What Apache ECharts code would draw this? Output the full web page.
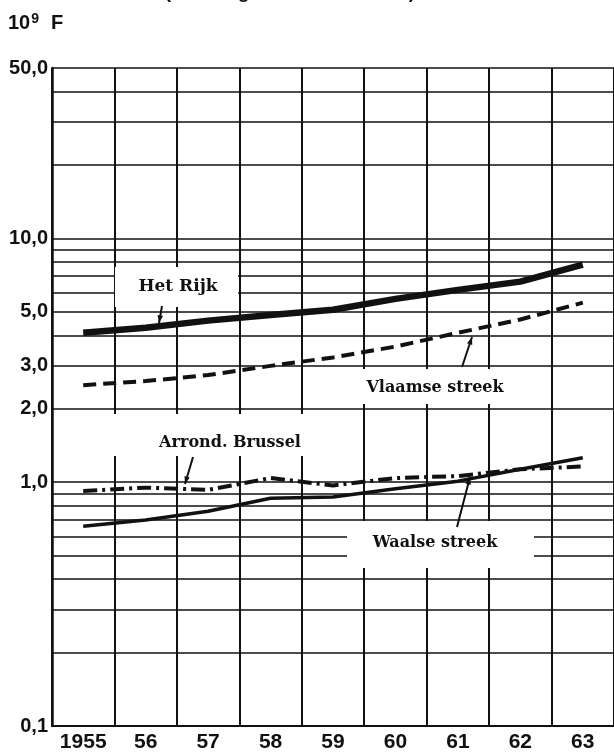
<!DOCTYPE html>
<html>
<head>
<meta charset="utf-8">
<script src="https://cdn.jsdelivr.net/npm/echarts@6/dist/echarts.min.js"></script>
<style>
  html, body { margin: 0; padding: 0; background: #fff; }
  #chart { width: 614px; height: 753px; }
</style>
</head>
<body>
<div id="chart"></div>
<script>
var years = ['1955', '56', '57', '58', '59', '60', '61', '62', '63'];
var hetRijk = [4.1, 4.3, 4.6, 4.85, 5.1, 5.65, 6.15, 6.65, 7.8];
var vlaamseStreek = [2.5, 2.6, 2.75, 3.0, 3.25, 3.6, 4.1, 4.65, 5.45];
var arrondBrussel = [0.92, 0.95, 0.93, 1.04, 0.97, 1.04, 1.06, 1.13, 1.16];
var waalseStreek = [0.66, 0.70, 0.76, 0.86, 0.87, 0.94, 1.01, 1.13, 1.26];
var gridValues = [0.1, 0.2, 0.3, 0.4, 0.5, 0.6, 0.7, 0.8, 0.9,
  1, 2, 3, 4, 5, 6, 7, 8, 9, 10, 20, 30, 40, 50];
var yLabels = [0.1, 1, 2, 3, 5, 10, 50];

var ink = '#111';
var serif = 'DejaVu Serif';

// white patch behind a note, so the grid breaks there
function patch(x, y, w, h) {
  return { type: 'rect', z: 1, shape: { x: x, y: y, width: w, height: h }, style: { fill: '#fff' } };
}
function note(text, cx, cy, size) {
  return {
    type: 'text', z: 5, x: cx, y: cy,
    style: { text: text, font: 'bold ' + size + 'px "' + serif + '"', fill: ink, align: 'center', verticalAlign: 'middle' }
  };
}
function arrow(x1, y1, x2, y2) {
  var a = Math.atan2(y2 - y1, x2 - x1);
  var len = 8, spread = 0.35;
  return {
    type: 'group', z: 5,
    children: [
      { type: 'line', z: 5, shape: { x1: x1, y1: y1, x2: x2, y2: y2 }, style: { stroke: ink, lineWidth: 2 } },
      { type: 'polygon', z: 5, shape: { points: [
        [x2, y2],
        [x2 - len * Math.cos(a - spread), y2 - len * Math.sin(a - spread)],
        [x2 - len * Math.cos(a + spread), y2 - len * Math.sin(a + spread)]
      ] }, style: { fill: ink } }
    ]
  };
}

var chart = echarts.init(document.getElementById('chart'));
chart.setOption({
  backgroundColor: '#fff',
  animation: false,
  grid: { left: 52, right: -1, top: 68, bottom: 26 },
  xAxis: {
    type: 'category',
    data: years,
    boundaryGap: true,
    axisLine: { show: true, lineStyle: { color: ink, width: 2 } },
    axisTick: { show: false },
    axisLabel: { color: ink, fontFamily: 'Liberation Sans', fontWeight: 'bold', fontSize: 21, margin: 6 },
    splitLine: { show: true, lineStyle: { color: ink, width: 2 } }
  },
  yAxis: {
    type: 'log',
    logBase: 10,
    min: 0.1,
    max: 50,
    axisLine: { show: true, lineStyle: { color: ink, width: 2.5 } },
    axisTick: { show: false, customValues: gridValues },
    axisLabel: {
      customValues: yLabels,
      color: ink, fontFamily: 'Liberation Sans', fontWeight: 'bold', fontSize: 20, margin: 4,
      formatter: function(v) { return v.toFixed(1).replace('.', ','); }
    },
    splitLine: { show: true, lineStyle: { color: ink, width: 1.5 } }
  },
  series: [
    { name: 'Het Rijk', type: 'line', data: hetRijk, symbol: 'none', lineStyle: { color: ink, width: 6.5 } },
    { name: 'Vlaamse streek', type: 'line', data: vlaamseStreek, symbol: 'none', lineStyle: { color: ink, width: 4, type: [13, 7] } },
    { name: 'Arrond. Brussel', type: 'line', data: arrondBrussel, symbol: 'none', lineStyle: { color: ink, width: 4, type: [14, 5, 3, 5] } },
    { name: 'Waalse streek', type: 'line', data: waalseStreek, symbol: 'none', lineStyle: { color: ink, width: 3.5 } }
  ],
  graphic: [
    {
      type: 'text', z: 5, x: 290, y: -7,
      style: { text: '(semi-logaritmische schaal)', font: 'bold 19px "Liberation Sans"', fill: ink, align: 'center', verticalAlign: 'middle' }
    },
    {
      type: 'text', z: 5, x: 8, y: 23,
      style: {
        text: '{a|10}{b|9}{c|F}',
        verticalAlign: 'middle',
        rich: {
          a: { font: 'bold 20px "Liberation Sans"', fill: ink },
          b: { font: 'bold 14px "Liberation Sans"', fill: ink, verticalAlign: 'top', padding: [0, 0, 8, 1] },
          c: { font: 'bold 20px "Liberation Sans"', fill: ink, padding: [0, 0, 0, 12] }
        }
      }
    },
    patch(115, 267, 123, 40),
    patch(340, 369, 190, 35),
    patch(100, 414, 235, 42),
    patch(347, 521, 187, 47),
    note('Het Rijk', 178, 287, 17),
    note('Vlaamse streek', 435, 388, 16),
    note('Arrond. Brussel', 230, 443, 16),
    note('Waalse streek', 435, 543, 16),
    arrow(162, 306, 159, 323),
    arrow(462, 367, 472, 337),
    arrow(193, 457, 185, 484),
    arrow(457, 527, 470, 477)
  ]
});
</script>
</body>
</html>
